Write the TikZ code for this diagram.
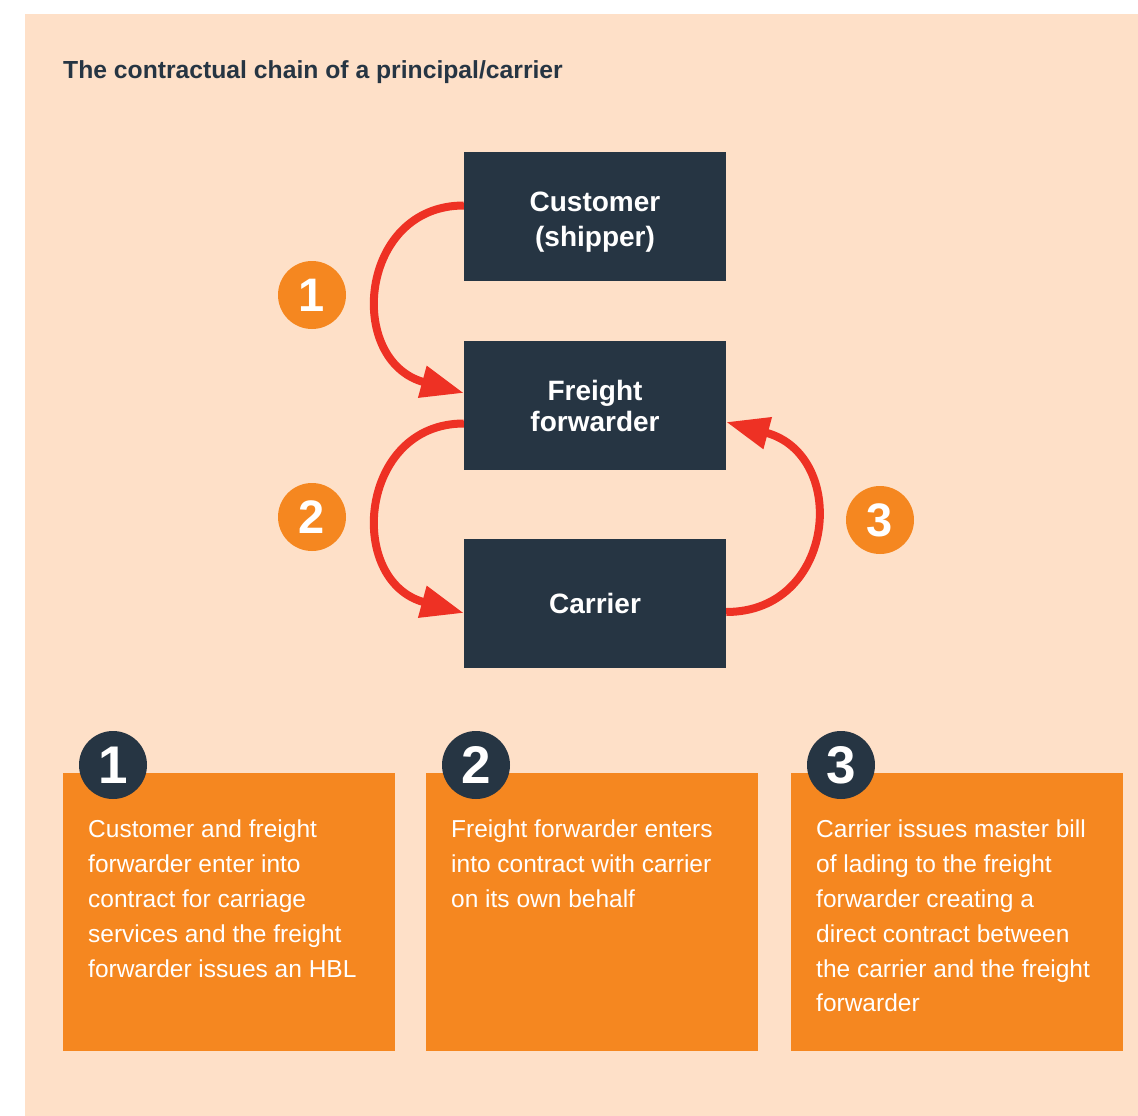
\documentclass[tikz,border=0pt]{standalone}
\usepackage{fontspec}
\setmainfont{Liberation Sans}
\usetikzlibrary{arrows.meta}

\definecolor{peach}{HTML}{FEE0C8}
\definecolor{navy}{HTML}{263543}
\definecolor{tangerine}{HTML}{F58720}
\definecolor{arrowred}{HTML}{EE3124}

\begin{document}
\begin{tikzpicture}[x=1pt, y=-1pt,
    party/.style={fill=navy, text=white, minimum width=262pt, minimum height=129pt,
        inner sep=0pt, align=center, font=\fontsize{28}{31}\selectfont\bfseries},
    flow/.style={arrowred, line width=8pt, -{Triangle[length=43pt, width=31pt]}},
    numdot/.style={circle, fill=tangerine, text=white, minimum size=68pt, inner sep=0pt,
        font=\fontsize{47}{47}\selectfont\bfseries},
    note/.style={fill=tangerine, minimum width=332pt, minimum height=278pt,
        anchor=north west, inner sep=0pt},
    notetext/.style={text=white, anchor=north west, align=left, inner sep=0pt,
        font=\fontsize{24.5}{34.8}\selectfont}]
\useasboundingbox (0,0) rectangle (1138,1116);
\fill [peach] (25,14) rectangle (1138,1116);

\node [anchor=base west, inner sep=0pt, text=navy, font=\fontsize{24.7}{28}\selectfont\bfseries]
    (title) at (63,78) {The contractual chain of a principal/carrier};

% the three parties (strut pushes the two lines a bit lower)
\node [party] (cust) at (595,216.5) {\rule{0pt}{30pt}Customer\\[4pt](shipper)};
\node [party] (ff) at (595,405.5) {Freight\\forwarder};
\node [party] (carrier) at (595,603.5) {Carrier};

% contracts between them
\draw [flow] ([yshift=11pt]cust.west) .. controls +(-105,0) and +(-118,-32) .. ([yshift=12.5pt]ff.west);
\draw [flow] ([yshift=-18pt]ff.west) .. controls +(-105,0) and +(-118,-32) .. ([yshift=-9.5pt]carrier.west);
\draw [flow] ([yshift=-8.5pt]carrier.east) .. controls +(110,0) and +(123,33) .. ([yshift=-16.5pt]ff.east);

\node [numdot] (n1) at (312,295) {1};
\node [numdot] (n2) at (312,517) {2};
\node [numdot] (n3) at (880,520) {3};

% explanations underneath
\foreach \i/\x/\txt in {
    1/63/{Customer and freight\\forwarder enter into\\contract for carriage\\services and the freight\\forwarder issues an HBL},
    2/426/{Freight forwarder enters\\into contract with carrier\\on its own behalf},
    3/791/{Carrier issues master bill\\of lading to the freight\\forwarder creating a\\direct contract between\\the carrier and the freight\\forwarder}} {
  \node [note] (b\i) at (\x,773) {};
  \node [numdot, fill=navy, font=\fontsize{53}{53}\selectfont\bfseries]
      (d\i) at ([shift={(50,-8)}]b\i.north west) {\i};
  \node [notetext] (t\i) at ([shift={(25,47)}]b\i.north west) {\txt};
}
\end{tikzpicture}
\end{document}
